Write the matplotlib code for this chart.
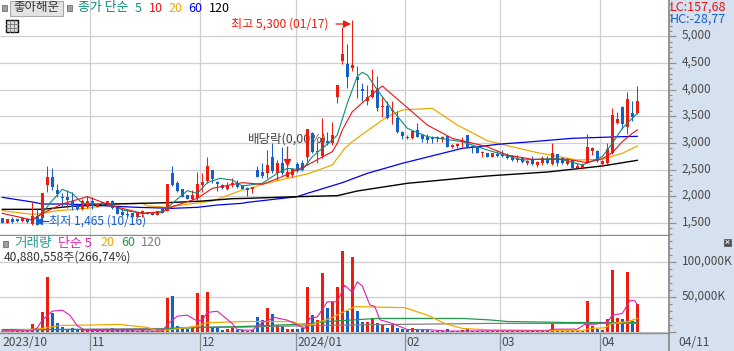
import matplotlib
matplotlib.use('Agg')
import matplotlib.pyplot as plt
from matplotlib.patches import Rectangle
from matplotlib.ticker import MultipleLocator, FuncFormatter, FixedLocator
from matplotlib.transforms import ScaledTranslation

plt.rcParams['font.family'] = ['Noto Sans CJK KR', 'DejaVu Sans']

# candles, one row per list
opens = [1587, 1506, 1575, 1569, 1531, 1575, 1481, 1631, 1587, 2206, 2356, 2119, 1994, 1994, 1912, 1837,
         1756, 1806, 1912, 1806, 1900, 1856, 1912, 1806, 1700, 1669, 1681, 1619, 1681, 1669, 1700, 1650,
         1762, 1731, 2431, 2256, 2131, 2019, 1956, 1969, 2206, 2281, 2494, 2275, 2206, 2131, 2206, 2256,
         2206, 2150, 2144, 2494, 2456, 2431, 2744, 2431, 2631, 2369, 2400, 2606, 2619, 2731, 3181, 2825,
         2756, 3031, 2994, 3869, 4544, 4481, 4400, 4231, 4006, 3794, 3869, 4019, 3670, 3694, 3600, 3463,
         3206, 3110, 3100, 3244, 3150, 3119, 3088, 3100, 3069, 3131, 2931, 2944, 3025, 3150, 2931, 2931,
         2806, 2806, 2744, 2794, 2794, 2775, 2756, 2681, 2713, 2619, 2681, 2588, 2619, 2694, 2606, 2794,
         2713, 2606, 2681, 2525, 2525, 2631, 2856, 2856, 2600, 2631, 2806, 3369, 3681, 3306, 3569, 3569]
highs = [1587, 1569, 1619, 1569, 1587, 1575, 1900, 1775, 2056, 2569, 2525, 2231, 2056, 2119, 2088, 1837,
         1944, 2006, 1994, 1862, 1900, 1912, 1931, 1806, 1775, 1744, 1681, 1681, 1744, 1706, 1700, 1719,
         1762, 2231, 2569, 2294, 2131, 2019, 2119, 2456, 2444, 2731, 2494, 2294, 2231, 2275, 2344, 2306,
         2206, 2181, 2181, 2575, 2619, 2869, 2994, 2681, 2931, 2931, 2525, 2650, 2681, 3256, 3213, 3025,
         3463, 3213, 3394, 4088, 5169, 4856, 5300, 4444, 4119, 4088, 4388, 4256, 3869, 3788, 3794, 3606,
         3231, 3150, 3244, 3369, 3169, 3169, 3131, 3131, 3131, 3131, 2981, 2994, 3106, 3150, 2931, 2944,
         2856, 2806, 2806, 2869, 2869, 2819, 2775, 2775, 2744, 2681, 2756, 2669, 2756, 2756, 3006, 2794,
         2731, 2713, 2681, 2619, 2619, 3169, 2919, 2869, 2681, 3006, 3656, 3588, 3694, 3963, 3788, 4069]
lows = [1506, 1500, 1506, 1525, 1525, 1506, 1465, 1465, 1556, 2088, 2119, 1994, 1794, 1775, 1744, 1744,
        1744, 1775, 1756, 1800, 1831, 1850, 1756, 1669, 1631, 1606, 1606, 1619, 1619, 1669, 1650, 1650,
        1681, 1731, 2194, 2081, 1994, 1950, 1931, 1931, 2088, 2256, 2256, 2106, 2131, 2119, 2181, 2163,
        2144, 2006, 2069, 2369, 2338, 2338, 2431, 2306, 2400, 2369, 2369, 2463, 2481, 2588, 2806, 2619,
        2713, 2963, 2963, 3744, 4481, 4025, 4356, 3838, 3794, 3713, 3838, 3606, 3494, 3444, 3356, 3181,
        3081, 3069, 3069, 3106, 3025, 3006, 3006, 3025, 3025, 2931, 2900, 2900, 2919, 2900, 2819, 2806,
        2744, 2744, 2744, 2744, 2744, 2700, 2669, 2650, 2631, 2588, 2588, 2556, 2588, 2606, 2588, 2575,
        2606, 2588, 2538, 2506, 2506, 2619, 2775, 2650, 2569, 2606, 2794, 3356, 3269, 3169, 3419, 3544]
closes = [1506, 1569, 1525, 1531, 1587, 1512, 1631, 1465, 2056, 2369, 2181, 2044, 1975, 1931, 1806, 1756,
          1912, 1912, 1819, 1862, 1837, 1912, 1775, 1669, 1656, 1650, 1606, 1681, 1719, 1706, 1650, 1719,
          1681, 2231, 2212, 2094, 1994, 1950, 2031, 2231, 2269, 2569, 2325, 2240, 2156, 2212, 2256, 2181,
          2144, 2125, 2169, 2369, 2381, 2588, 2481, 2619, 2431, 2463, 2506, 2481, 2494, 3256, 2838, 2850,
          3088, 2994, 3150, 4088, 4669, 4244, 4456, 4181, 3981, 3869, 3994, 3650, 3690, 3463, 3620, 3206,
          3131, 3095, 3225, 3119, 3069, 3056, 3069, 3085, 3106, 2931, 2969, 2981, 3040, 2900, 2919, 2819,
          2838, 2744, 2806, 2763, 2756, 2725, 2681, 2713, 2644, 2669, 2606, 2650, 2713, 2619, 2806, 2619,
          2619, 2681, 2538, 2569, 2588, 2919, 2900, 2663, 2663, 2881, 3525, 3444, 3356, 3819, 3481, 3788]
volumes = [1700, 1700, 1700, 1700, 1700, 1700, 11700, 3100, 28800, 78800, 27800, 13100, 7900, 4500, 6400, 4500,
           4500, 4000, 4000, 3600, 3600, 2600, 5500, 3100, 2600, 2600, 2600, 2100, 2600, 2100, 2100, 2100,
           3100, 48800, 51600, 8800, 6400, 4500, 6400, 55900, 24500, 57400, 7900, 7900, 3100, 4500, 5500, 3100,
           3100, 2100, 3100, 21700, 16900, 34500, 25900, 10200, 8800, 4500, 4500, 4500, 6400, 64500, 24500, 17400,
           84500, 34500, 42600, 64500, 115900, 30200, 107300, 30200, 15000, 14500, 19800, 13100, 10200, 5900, 11700, 5900,
           4500, 3100, 5500, 3100, 2600, 2600, 1700, 1700, 1700, 4500, 1700, 1700, 4000, 4500, 2100, 1700,
           1700, 1700, 1700, 1700, 1700, 1700, 1700, 1700, 1700, 1700, 1700, 1700, 2100, 1700, 14000, 2100,
           2100, 2100, 3100, 2100, 2100, 44500, 8800, 4500, 3100, 18800, 88800, 20700, 18800, 85900, 16000, 40880]

# moving averages, read at the bends of each line
ma5_x = [6, 8, 9.5, 12, 14, 16, 21.5, 24, 28, 32, 34, 37, 39, 41, 43.5, 46, 48, 52, 55, 57, 60, 62, 66, 67, 69,
         71, 72, 73, 75, 78, 81, 85, 92, 97, 104, 111, 116, 120, 122, 124, 127]
ma5_y = [1556, 1681, 1869, 2131, 2056, 1869, 1856, 1744, 1681, 1694, 1869, 2106, 2056, 2256, 2337, 2306, 2194,
         2244, 2431, 2525, 2494, 2744, 3056, 3150, 3744, 4250, 4325, 4275, 3994, 3619, 3275, 3119, 3025, 2869,
         2681, 2712, 2587, 2744, 2994, 3275, 3556]
ma10_x = [0, 6, 8, 12, 17, 22, 28, 32, 34, 39, 42, 48, 52, 56, 61, 66, 67, 68, 70, 73, 75, 76, 80, 85, 90, 97,
          98, 101, 106, 113, 117, 120, 122, 124, 126, 127]
ma10_y = [1681, 1556, 1681, 1856, 1994, 1819, 1681, 1712, 1806, 1962, 2150, 2256, 2225, 2369, 2587, 2837, 2994,
          3244, 3587, 3837, 3994, 4069, 3744, 3337, 3087, 2931, 2887, 2775, 2694, 2694, 2631, 2706, 2819, 3025,
          3181, 3244]
ma20_x = [0, 6, 8, 11, 17, 22, 28, 29, 33, 35, 42, 48, 49, 52, 55, 61, 66, 68.5, 70, 72, 77, 80, 86, 91, 97, 101,
          107, 115, 120, 124, 127]
ma20_y = [1731, 1662, 1681, 1731, 1775, 1856, 1869, 1819, 1794, 1825, 1912, 2119, 2131, 2225, 2294, 2419, 2587,
          2900, 3025, 3162, 3494, 3619, 3650, 3337, 3044, 2950, 2819, 2681, 2694, 2806, 2944]
ma60_x = [0, 6, 8, 13, 27, 34, 39, 43, 48, 49, 59, 61, 68, 73, 80, 92, 97, 99, 106, 114, 124, 127]
ma60_y = [1981, 1894, 1856, 1856, 1794, 1775, 1794, 1837, 1869, 1887, 1994, 2056, 2256, 2431, 2619, 2900, 2950,
          2975, 3025, 3088, 3119, 3125]
ma120_x = [0, 8, 13, 22, 28, 33, 40, 46, 49, 59, 67, 71, 81, 93, 97, 98, 109, 120, 127]
ma120_y = [1756, 1756, 1806, 1856, 1869, 1881, 1912, 1956, 1962, 1994, 2012, 2100, 2244, 2350, 2381, 2388, 2456,
           2569, 2675]

vol5_x = [0, 6, 7, 8, 9.5, 10, 12, 13.5, 15, 16.5, 21, 32, 33, 35, 37, 39, 40, 41, 43, 46, 47, 48.5, 50, 52,
          54.5, 57, 60.5, 61.5, 63, 65, 67, 68.5, 70, 71, 72, 73.5, 74.5, 75.5, 78, 81, 85.5, 89, 97, 109, 110,
          115, 116.5, 118.5, 121, 122, 124, 125.5, 126.5, 127]
vol5_y = [2100, 2100, 6400, 17400, 26900, 30200, 31600, 24500, 9300, 3100, 2100, 1700, 11200, 23100, 24500, 15900,
          17400, 28300, 30200, 12500, 4000, 3100, 3100, 14000, 21200, 17400, 5500, 19800, 22000, 43600, 43600,
          67200, 56800, 72000, 66200, 39200, 36900, 17900, 12700, 4000, 3600, 1700, 2100, 2100, 4500, 4500, 11200,
          11700, 14000, 24500, 26900, 45200, 45200, 39000]
vol20_x = [0, 8, 11.5, 23.5, 25.5, 29, 31, 33, 38.5, 41, 48.5, 58, 60, 62, 65.5, 70.5, 80.5, 85, 88.5, 92, 97,
           116, 117.5, 120.5, 122, 125, 127]
vol20_y = [1200, 5500, 9700, 11200, 9700, 6900, 2600, 3100, 8300, 13600, 15400, 15400, 10200, 11200, 19800, 36700,
           35200, 24500, 12700, 5500, 3600, 2100, 5500, 6400, 12700, 15000, 19800]
vol60_x = [0, 32, 33, 48, 61, 66, 75, 92, 97, 98, 101, 113, 127]
vol60_y = [4000, 4000, 5500, 8300, 12000, 15900, 19800, 19800, 17900, 17400, 15400, 14000, 14000]
vol120_x = [0, 33, 39, 48, 66, 97, 127]
vol120_y = [3100, 5500, 7400, 7400, 10200, 12700, 12700]

price_ticks = [1500, 2000, 2500, 3000, 3500, 4000, 4500, 5000]
volume_ticks = [0, 50000, 100000]
month_pos = [17.5, 39.5, 58.7, 80.5, 99.5, 119.5]
month_labels = ['11', '12', '2024/01', '02', '03', '04']

UP = '#EE1C0E'
DOWN = '#1560C8'
GRID = '#CFCFCF'
AXIS = '#8C8C8C'
TXT = '#4A4A4A'
PANEL = '#D6E1EF'

W, H = 734, 351
fig = plt.figure(figsize=(W / 100, H / 100), dpi=100, facecolor=PANEL)
ax = fig.add_axes([0, (H - 235) / H, 669 / W, 235 / H])
vax = fig.add_axes([0, (H - 333) / H, 669 / W, 97 / H], sharex=ax)


def candles(a):
    for i in range(len(opens)):
        col = UP if closes[i] >= opens[i] else DOWN
        a.vlines(i, lows[i], highs[i], color=col, lw=0.75, zorder=4)
        bottom = min(opens[i], closes[i])
        a.bar(i, max(abs(closes[i] - opens[i]), 20), bottom=bottom, width=0.66, color=col, lw=0, zorder=5)


candles(ax)
ax.plot(ma5_x, ma5_y, color='#0E8A7D', lw=0.8, zorder=6)
ax.plot(ma10_x, ma10_y, color='#F01010', lw=0.8, zorder=6)
ax.plot(ma20_x, ma20_y, color='#F0A800', lw=0.9, zorder=3)
ax.plot(ma60_x, ma60_y, color='#0000F0', lw=0.9, zorder=3)
ax.plot(ma120_x, ma120_y, color='#000000', lw=1.0, zorder=3)
# sits under the candles, as in the reference
ax.text(49.1, 3075, '배당락(0,00%)', color='#444444', fontsize=9, va='center', zorder=2)

vcolors = [UP if c >= o else DOWN for o, c in zip(opens, closes)]
vax.bar(range(len(volumes)), volumes, width=0.66, color=vcolors, lw=0, zorder=3)
vax.plot(vol120_x, vol120_y, color='#808080', lw=0.9, zorder=4)
vax.plot(vol60_x, vol60_y, color='#1E9A4A', lw=0.9, zorder=4)
vax.plot(vol20_x, vol20_y, color='#F0A800', lw=0.9, zorder=5)
vax.plot(vol5_x, vol5_y, color='#E020B0', lw=0.8, zorder=6)

ax.set_xlim(-0.46, 133.34)
ax.set_ylim(1275, 5681)
vax.set_ylim(-1000, 137600)

for a in (ax, vax):
    a.set_facecolor('white')
    a.yaxis.tick_right()
    a.set_axisbelow(True)
    a.grid(True, which='major', color=GRID, lw=0.9)
    for s in ('left', 'top'):
        a.spines[s].set_visible(False)
    a.spines['right'].set_color(AXIS)
    a.spines['right'].set_linewidth(1.3)
    a.spines['bottom'].set_color(AXIS)
    a.spines['bottom'].set_linewidth(1.0)
    a.tick_params(axis='y', which='major', length=5, width=0.8, color=AXIS, labelcolor=TXT, labelsize=8.5, pad=4)
    a.tick_params(axis='y', which='minor', length=2.5, width=0.8, color=AXIS)

ax.yaxis.set_major_locator(FixedLocator(price_ticks))
ax.yaxis.set_minor_locator(MultipleLocator(100))
ax.yaxis.set_major_formatter(FuncFormatter(lambda v, p: f'{int(v):,}'))
vax.yaxis.set_major_locator(FixedLocator(volume_ticks))
vax.yaxis.set_minor_locator(MultipleLocator(10000))
vax.yaxis.set_major_formatter(FuncFormatter(lambda v, p: f'{int(v):,}K' if v > 0 else ''))

vax.set_xticks(month_pos)
vax.set_xticklabels([])
vax.tick_params(axis='x', length=13, width=0.9, color=AXIS, bottom=True)
ax.tick_params(axis='x', length=0, labelbottom=False)

# the CJK font sits low in its box, lift the axis labels a little
fig.canvas.draw()
lift = ScaledTranslation(0, 2.2 / 100, fig.dpi_scale_trans)
for a in (ax, vax):
    for t in a.get_yticklabels():
        t.set_transform(t.get_transform() + lift)

# overlay in pixels for header text and markers
ov = fig.add_axes([0, 0, 1, 1], facecolor='none', zorder=10)
ov.set_xlim(0, W)
ov.set_ylim(H, 0)
ov.axis('off')


def label(x, y, s, color=TXT, size=8.5, ha='left'):
    ov.text(x, y, s, color=color, fontsize=size, ha=ha, va='center')


# top header
ov.add_patch(Rectangle((2, 5), 5, 6, fc='#A0A0A0', ec='#707070', lw=0.6))
ov.add_patch(Rectangle((67, 5), 5, 6, fc='#A0A0A0', ec='#707070', lw=0.6))
ov.add_patch(Rectangle((10, 1), 53, 15, fc='#E4E4E4', ec='#AAAAAA', lw=0.8))
label(36.5, 8, '좋아해운', '#333333', 9, ha='center')
ov.add_patch(Rectangle((6, 20), 12, 12, fc='#DDDDDD', ec='#111111', lw=1))
ov.plot([6, 18], [24, 24], color='#777777', lw=0.6)
ov.plot([6, 18], [28, 28], color='#777777', lw=0.6)
ov.plot([10, 10], [20, 32], color='#777777', lw=0.6)
ov.plot([14, 14], [20, 32], color='#777777', lw=0.6)

label(78, 8, '종가 단순', '#0E8A7D', 9.3)
label(135, 8, '5', '#0E8A7D', 9)
label(149, 8, '10', '#F01010', 9)
label(168, 8, '20', '#F0A800', 9)
label(188, 8, '60', '#0000F0', 9)
label(209, 8, '120', '#000000', 9)

label(670, 7, 'LC:157,68', '#F01010', 9)
label(670, 19, 'HC:-28,77', '#1560C8', 9)

# volume header
ov.add_patch(Rectangle((3, 241), 5, 6, fc='#A0A0A0', ec='#707070', lw=0.6))
label(14, 243, '거래량', '#2E9A96', 9.8)
label(58, 243, '단순 5', '#E020B0', 9.3)
label(100, 243, '20', '#F0A800', 9)
label(121, 243, '60', '#1E9A4A', 9)
label(141, 243, '120', '#808080', 9)
label(4, 257, '40,880,558주(266,74%)', '#333333', 8.7)

# annotations
label(231, 24, '최고 5,300 (01/17)', UP, 8.7)
ov.annotate('', xy=(351, 24), xytext=(336, 24),
            arrowprops=dict(arrowstyle='-|>', color=UP, lw=0.9, mutation_scale=11, shrinkA=0, shrinkB=0))
label(49, 221, '최저 1,465 (10/16)', '#1560C8', 8.7)
ov.annotate('', xy=(35, 221.5), xytext=(49, 221.5),
            arrowprops=dict(arrowstyle='-|>', color='#1560C8', lw=0.9, mutation_scale=11, shrinkA=0, shrinkB=0))
ov.annotate('', xy=(287.5, 167), xytext=(287.5, 147),
            arrowprops=dict(arrowstyle='-|>', color=UP, lw=0.9, mutation_scale=11, shrinkA=0, shrinkB=0))

# bottom date strip
label(2, 342, '2023/10', TXT, 8.7)
for pos, name in zip(month_pos, month_labels):
    label(2.3 + 5 * pos + 2, 342, name, TXT, 8.7)
label(678, 342, '04/11', TXT, 8.7)
ov.plot([669, 669], [333, 351], color=AXIS, lw=1.3)

# close button of the volume pane
ov.add_patch(Rectangle((724, 238.5), 7, 7, fc='#505050', ec='#505050', lw=0.5))
ov.plot([726, 729], [240.5, 243.5], color='white', lw=0.6)
ov.plot([726, 729], [243.5, 240.5], color='white', lw=0.6)

fig.savefig('out.png', dpi=100, facecolor=fig.get_facecolor())
